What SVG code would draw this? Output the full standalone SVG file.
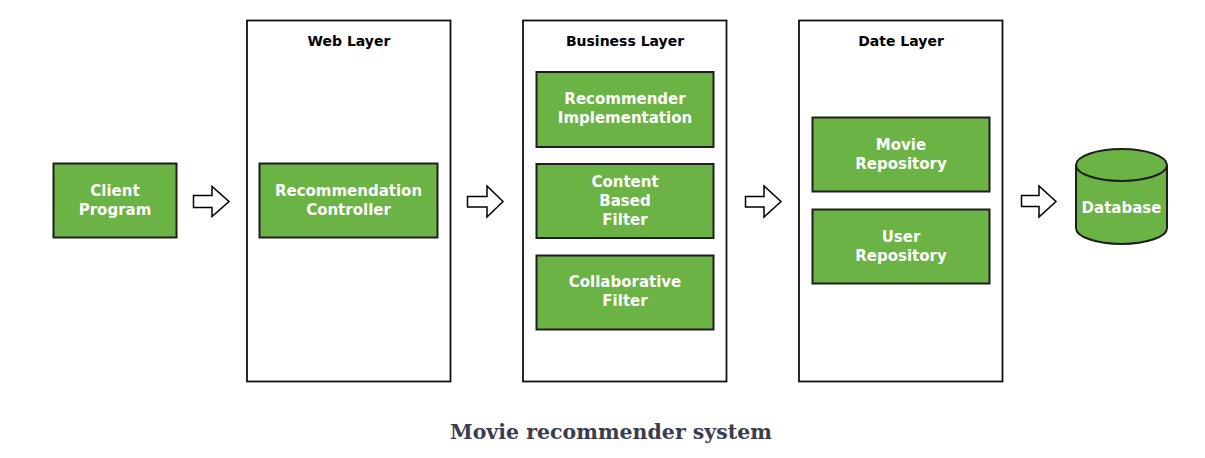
<svg xmlns="http://www.w3.org/2000/svg" width="1205" height="458" viewBox="0 0 1205 458">
<style>
.layer{fill:#fff;stroke:#111;stroke-width:1.8}
.node{fill:#6ab344;stroke:#1e1e1e;stroke-width:2}
.t{font-family:"DejaVu Sans","Open Sans",sans-serif;font-weight:bold;font-size:15px;fill:#fff;text-anchor:middle}
.h{font-family:"DejaVu Sans","Open Sans",sans-serif;font-weight:bold;font-size:14px;fill:#000;text-anchor:middle}
.arr{fill:#fff;stroke:#000;stroke-width:1.5;stroke-linejoin:miter}
.cap{font-family:"DejaVu Serif","Liberation Serif",serif;font-weight:bold;font-size:21px;fill:#3c3c4c;text-anchor:middle}
</style>
<rect width="1205" height="458" fill="#fff"/>
<g id="web-layer">
<rect class="layer" x="247" y="20.5" width="203.5" height="361"/>
<text class="h" x="349" y="45.5">Web Layer</text>
</g>
<g id="business-layer">
<rect class="layer" x="523" y="20.5" width="203.5" height="361"/>
<text class="h" x="625" y="46">Business Layer</text>
</g>
<g id="data-layer">
<rect class="layer" x="799" y="20.5" width="203.5" height="361"/>
<text class="h" x="901" y="46">Date Layer</text>
</g>
<g id="client-program">
<rect class="node" x="53.5" y="163.5" width="123" height="74"/>
<text class="t" x="115" y="196">Client</text>
<text class="t" x="115" y="215">Program</text>
</g>
<g id="recommendation-controller">
<rect class="node" x="259.5" y="163.5" width="178" height="74"/>
<text class="t" x="348.5" y="196">Recommendation</text>
<text class="t" x="348.5" y="215">Controller</text>
</g>
<g id="recommender-implementation">
<rect class="node" x="536.5" y="72" width="177" height="75"/>
<text class="t" x="625" y="104">Recommender</text>
<text class="t" x="625" y="123">Implementation</text>
</g>
<g id="content-based-filter">
<rect class="node" x="536.5" y="164" width="177" height="74"/>
<text class="t" x="625" y="187">Content</text>
<text class="t" x="625" y="206">Based</text>
<text class="t" x="625" y="225">Filter</text>
</g>
<g id="collaborative-filter">
<rect class="node" x="536.5" y="255.5" width="177" height="74"/>
<text class="t" x="625" y="287">Collaborative</text>
<text class="t" x="625" y="306">Filter</text>
</g>
<g id="movie-repository">
<rect class="node" x="812.5" y="117.5" width="177" height="74"/>
<text class="t" x="901" y="149.5">Movie</text>
<text class="t" x="901" y="168.5">Repository</text>
</g>
<g id="user-repository">
<rect class="node" x="812.5" y="209.5" width="177" height="74"/>
<text class="t" x="901" y="241.5">User</text>
<text class="t" x="901" y="260.5">Repository</text>
</g>
<g id="database">
<path class="node" d="M1076,165 L1076,228 A45.5,16 0 0 0 1167,228 L1167,165 A45.5,16 0 0 0 1076,165 Z"/>
<path fill="none" stroke="#1e1e1e" stroke-width="2" d="M1076,165 A45.5,16 0 0 0 1167,165"/>
<text class="t" x="1121.5" y="213">Database</text>
</g>
<g id="connectors">
<path class="arr" d="M193.5,195.5 L212,195.5 L212,186.5 L229,201.5 L212,216.5 L212,207.5 L193.5,207.5 Z"/>
<path class="arr" d="M467.5,196.5 L487,196.5 L487,186 L503,201.5 L487,217 L487,207 L467.5,207 Z"/>
<path class="arr" d="M745.5,196.5 L764,196.5 L764,186 L781,201.5 L764,217 L764,207 L745.5,207 Z"/>
<path class="arr" d="M1021.5,195.5 L1039,195.5 L1039,186 L1056,201.5 L1039,217 L1039,206.5 L1021.5,206.5 Z"/>
</g>
<text class="cap" x="611" y="439" textLength="322" lengthAdjust="spacingAndGlyphs">Movie recommender system</text>
</svg>
